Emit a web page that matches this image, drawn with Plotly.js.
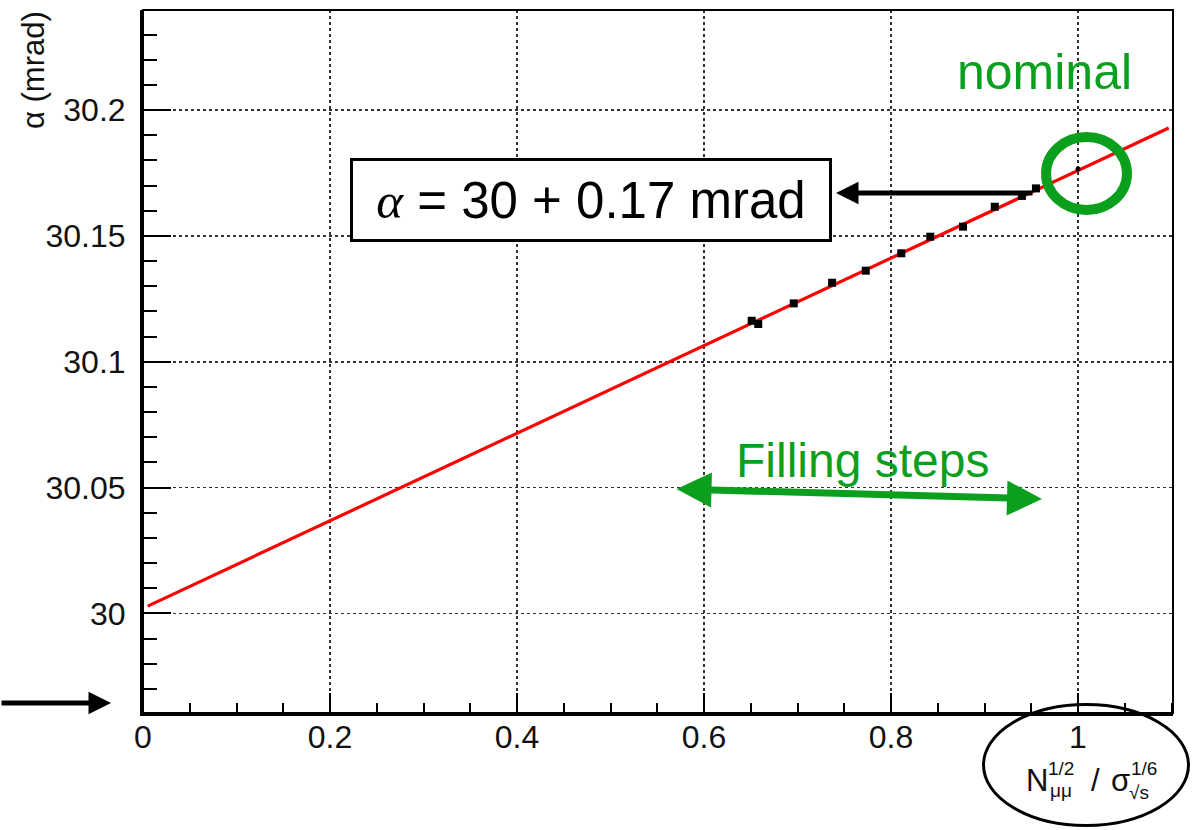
<!DOCTYPE html>
<html>
<head>
<meta charset="utf-8">
<script src="https://cdn.plot.ly/plotly-3.0.1.min.js"></script>
<style>html,body{margin:0;padding:0;background:#fff;}#chart{width:1193px;height:830px;}</style>
</head>
<body>
<div id="chart"></div>
<script>
// ---- data ----
const stepX = [0.651, 0.658, 0.696, 0.737, 0.773, 0.811, 0.842, 0.877, 0.911, 0.940, 0.955];
const stepY = [30.1163, 30.1150, 30.1232, 30.1314, 30.1362, 30.1431, 30.1497, 30.1537, 30.1616, 30.1659, 30.1689];
const nominalX = [1.0];
const nominalY = [30.1766];
const fitIntercept = 30.002;
const fitSlope = 0.174;
const fitRange = [0.005, 1.097];
const xTickVals = [0, 0.2, 0.4, 0.6, 0.8, 1];
const xTickText = ['0', '0.2', '0.4', '0.6', '0.8', '1'];
const yTickVals = [30, 30.05, 30.1, 30.15, 30.2];
const yTickText = ['30', '30.05', '30.1', '30.15', '30.2'];

// ---- geometry helpers (pixel -> paper) ----
const W = 1193, H = 830;
const M = {l: 143, r: 20, t: 10, b: 117};
const PW = W - M.l - M.r, PH = H - M.t - M.b;
const px = v => (v - M.l) / PW;
const py = v => (H - M.b - v) / PH;

const GREEN = '#0aa01e';
const FONT = '"Liberation Sans", Arial, Helvetica, sans-serif';

const fitX = fitRange.slice();
const fitY = fitX.map(x => fitIntercept + fitSlope * x);

const traces = [
  {x: fitX, y: fitY, mode: 'lines', line: {color: '#ff0000', width: 3.2}, hoverinfo: 'skip', showlegend: false},
  {x: stepX, y: stepY, mode: 'markers', marker: {symbol: 'square', size: 8, color: '#000'}, showlegend: false},
  {x: nominalX, y: nominalY, mode: 'markers', marker: {symbol: 'circle', size: 5, color: '#000'}, showlegend: false}
];

const tickFont = {family: FONT, size: 32, color: '#111'};

const layout = {
  width: W, height: H,
  margin: M,
  paper_bgcolor: '#fff', plot_bgcolor: '#fff',
  showlegend: false,
  font: {family: FONT},
  xaxis: {
    range: [0, 1.1016], tickmode: 'array', tickvals: xTickVals, ticktext: xTickText,
    ticks: 'inside', ticklen: 20, tickwidth: 2, tickcolor: '#000',
    showline: true, linewidth: 3, linecolor: '#000',
    showgrid: true, gridcolor: '#333', gridwidth: 1.5, griddash: 'dot',
    zeroline: false, tickfont: tickFont, ticklabelstandoff: -6,
    minor: {tick0: 0, dtick: 0.05, ticks: 'inside', ticklen: 10, tickwidth: 2, tickcolor: '#000', showgrid: false}
  },
  yaxis: {
    range: [29.9604, 30.2398], tickmode: 'array', tickvals: yTickVals, ticktext: yTickText,
    ticks: 'inside', ticklen: 28, tickwidth: 2, tickcolor: '#000',
    showline: true, linewidth: 3, linecolor: '#000',
    showgrid: true, gridcolor: '#333', gridwidth: 1.5, griddash: 'dot',
    zeroline: false, tickfont: tickFont, ticklabelstandoff: 8,
    minor: {tick0: 30, dtick: 0.01, ticks: 'inside', ticklen: 14, tickwidth: 2, tickcolor: '#000', showgrid: false}
  },
  shapes: [
    {type: 'rect', xref: 'paper', yref: 'paper', x0: 0, x1: 1, y0: 0, y1: 1, line: {color: '#000', width: 2}, layer: 'above'},
    {type: 'circle', xref: 'paper', yref: 'paper', x0: px(1046), x1: px(1127), y0: py(210), y1: py(137), line: {color: GREEN, width: 10}, layer: 'above'},
    {type: 'circle', xref: 'paper', yref: 'paper', x0: px(983.5), x1: px(1188.5), y0: py(825.5), y1: py(704.5), line: {color: '#000', width: 3}, layer: 'above'}
  ],
  annotations: [
    // y-axis title
    {xref: 'paper', yref: 'paper', x: px(33), y: py(70), text: 'α (mrad)', textangle: -90, showarrow: false,
     xanchor: 'center', yanchor: 'middle', font: {family: FONT, size: 31, color: '#111'}},
    // x-axis title pieces
    {xref: 'paper', yref: 'paper', x: px(1037), y: py(780), text: 'N', showarrow: false, xanchor: 'center', yanchor: 'middle', font: {family: FONT, size: 31, color: '#111'}},
    {xref: 'paper', yref: 'paper', x: px(1061), y: py(768), text: '1/2', showarrow: false, xanchor: 'center', yanchor: 'middle', font: {family: FONT, size: 19, color: '#111'}},
    {xref: 'paper', yref: 'paper', x: px(1061), y: py(791), text: 'μμ', showarrow: false, xanchor: 'center', yanchor: 'middle', font: {family: FONT, size: 19, color: '#111'}},
    {xref: 'paper', yref: 'paper', x: px(1095), y: py(780), text: '/', showarrow: false, xanchor: 'center', yanchor: 'middle', font: {family: FONT, size: 31, color: '#111'}},
    {xref: 'paper', yref: 'paper', x: px(1120), y: py(780), text: 'σ', showarrow: false, xanchor: 'center', yanchor: 'middle', font: {family: FONT, size: 31, color: '#111'}},
    {xref: 'paper', yref: 'paper', x: px(1144), y: py(768), text: '1/6', showarrow: false, xanchor: 'center', yanchor: 'middle', font: {family: FONT, size: 19, color: '#111'}},
    {xref: 'paper', yref: 'paper', x: px(1139), y: py(792), text: '√s', showarrow: false, xanchor: 'center', yanchor: 'middle', font: {family: FONT, size: 19, color: '#111'}},
    // boxed label
    {xref: 'paper', yref: 'paper', x: px(591), y: py(200), showarrow: false, xanchor: 'center', yanchor: 'middle',
     text: '<span style="font-family:\'Liberation Serif\', serif"><i>α</i></span> = 30 + 0.17 mrad',
     font: {family: FONT, size: 51, color: '#000'}, bgcolor: '#fff', bordercolor: '#000', borderwidth: 3, borderpad: 0,
     width: 476, height: 78},
    // black arrow to box
    {xref: 'paper', yref: 'paper', x: px(836), y: py(193), ax: 198, ay: 0, text: '', showarrow: true,
     arrowhead: 2, arrowsize: 0.9, arrowwidth: 5, arrowcolor: '#000'},
    // left arrow
    {xref: 'paper', yref: 'paper', x: px(111), y: py(703), ax: -113, ay: 0, text: '', showarrow: true,
     arrowhead: 2, arrowsize: 0.9, arrowwidth: 5, arrowcolor: '#000'},
    // nominal label
    {xref: 'paper', yref: 'paper', x: px(1044), y: py(72), text: 'nominal', showarrow: false, xanchor: 'center', yanchor: 'middle',
     font: {family: FONT, size: 50, color: GREEN}},
    // Filling steps label
    {xref: 'paper', yref: 'paper', x: px(862), y: py(460), text: 'Filling steps', showarrow: false, xanchor: 'center', yanchor: 'middle',
     font: {family: FONT, size: 48, color: GREEN}},
    // green double arrow
    {xref: 'paper', yref: 'paper', x: px(1042), y: py(499), ax: -367, ay: -10, text: '', showarrow: true,
     arrowhead: 2, startarrowhead: 2, arrowside: 'end+start', arrowsize: 1, startarrowsize: 1, arrowwidth: 7, arrowcolor: GREEN}
  ]
};

Plotly.newPlot('chart', traces, layout, {displayModeBar: false, staticPlot: true});
</script>
</body>
</html>
